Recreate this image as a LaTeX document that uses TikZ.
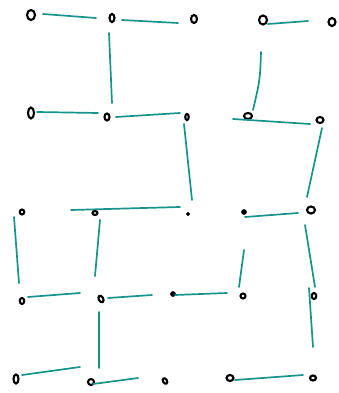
\documentclass[tikz,border=0pt]{standalone}
\usetikzlibrary{shapes.geometric}
\definecolor{edgeteal}{RGB}{22,148,138}
\tikzset{
  nd/.style={ellipse,draw=black,line width=2.1pt,inner sep=0pt,minimum width=#1},
  nd/.default=7pt,
  dotnd/.style={circle,fill=black,draw=black,line width=0.6pt,inner sep=0pt,minimum size=#1},
  dotnd/.default=3.5pt,
  edge/.style={draw=edgeteal,line width=1.7pt,line cap=round}
}
\begin{document}
\begin{tikzpicture}[x=1pt,y=-1pt]
\useasboundingbox (0,0) rectangle (339,393);
% row 1
\node[nd=8pt,minimum height=10pt] (A1) at (31,15) {};
\node[nd=5pt,minimum height=8pt] (A2) at (112,18) {};
\node[nd=6pt,minimum height=8pt] (A3) at (194,19) {};
\node[nd=8pt,minimum height=9pt] (A4) at (263,20) {};
\node[nd=7pt,minimum height=8pt] (A5) at (332,22) {};
% row 2
\node[nd=6pt,minimum height=11pt] (B1) at (31,113) {};
\node[nd=5pt,minimum height=7pt] (B2) at (107,117) {};
\node[nd=3.5pt,minimum height=6pt] (B3) at (187,117) {};
\node[nd=8pt,minimum height=6pt] (B4) at (248,116) {};
\node[nd=7pt,minimum height=6pt] (B5) at (320,120) {};
% row 3
\node[nd=4.5pt,minimum height=5pt] (C1) at (22,212) {};
\node[nd=5pt,minimum height=4pt] (C2) at (95,213) {};
\node[dotnd=3.5pt] (C3) at (188,214) {};
\node[dotnd=5pt] (C4) at (244,212) {};
\node[nd=8pt,minimum height=7pt] (C5) at (311,210) {};
% row 4
\node[nd=4.5pt,minimum height=6pt] (D1) at (22,301) {};
\node[nd=4.5pt,minimum height=7pt,rotate=30] (D2) at (101,299) {};
\node[dotnd=5pt] (D3) at (173,294) {};
\node[nd=5pt,minimum height=5pt] (D4) at (243,296) {};
\node[nd=4.5pt,minimum height=6pt] (D5) at (314,296) {};
% row 5
\node[nd=5pt,minimum height=9pt] (E1) at (16,379) {};
\node[nd=6pt,minimum height=6pt] (E2) at (91,382) {};
\node[nd=4pt,minimum height=6pt,rotate=30] (E3) at (165,381) {};
\node[nd=7pt,minimum height=6pt] (E4) at (230,378) {};
\node[nd=6pt,minimum height=5pt] (E5) at (313,378) {};
% connectors
\draw[edge] ([shift={(12,-1)}]A1.center) -- ([shift={(-16,0)}]A2.center);
\draw[edge] ([shift={(10,2)}]A2.center) -- ([shift={(-16,4)}]A3.center);
\draw[edge] ([shift={(-3,15)}]A2.center) -- ([shift={(5,-14)}]B2.center);
\draw[edge] ([shift={(5,4)}]A4.center) -- ([shift={(-24,-1)}]A5.center);
\draw[edge] ([shift={(-2,32)}]A4.center) .. controls ([shift={(-3,60)}]A4.center) .. ([shift={(5,-6)}]B4.center);
\draw[edge] ([shift={(6,-1)}]B1.center) -- ([shift={(-9,-4)}]B2.center);
\draw[edge] ([shift={(9,0)}]B2.center) -- ([shift={(-7,-4)}]B3.center);
\draw[edge] ([shift={(-15,3)}]B4.center) -- ([shift={(-10,4)}]B5.center);
\draw[edge] ([shift={(2,8)}]B5.center) -- ([shift={(-4,-13)}]C5.center);
\draw[edge] ([shift={(-3,7)}]B3.center) -- ([shift={(4,-14)}]C3.center);
\draw[edge] ([shift={(-24,-3)}]C2.center) -- ([shift={(-8,-7)}]C3.center);
\draw[edge] ([shift={(1,5)}]C4.center) -- ([shift={(-13,3)}]C5.center);
\draw[edge] ([shift={(-8,5)}]C1.center) -- ([shift={(-3,-18)}]D1.center);
\draw[edge] ([shift={(5,7)}]C2.center) -- ([shift={(-6,-23)}]D2.center);
\draw[edge] ([shift={(0,38)}]C4.center) -- ([shift={(-4,-9)}]D4.center);
\draw[edge] ([shift={(-6,15)}]C5.center) -- ([shift={(1,-9)}]D5.center);
\draw[edge] ([shift={(6,-4)}]D1.center) -- ([shift={(-21,-6)}]D2.center);
\draw[edge] ([shift={(7,-1)}]D2.center) -- ([shift={(-21,1)}]D3.center);
\draw[edge] ([shift={(2,1)}]D3.center) -- ([shift={(-16,-3)}]D4.center);
\draw[edge] ([shift={(-5,-8)}]D5.center) -- ([shift={(0,-31)}]E5.center);
\draw[edge] ([shift={(-2,13)}]D2.center) -- ([shift={(8,-14)}]E2.center);
\draw[edge] ([shift={(6,-4)}]E1.center) -- ([shift={(-11,-15)}]E2.center);
\draw[edge] ([shift={(2,2)}]E2.center) -- ([shift={(-27,-3)}]E3.center);
\draw[edge] ([shift={(5,2)}]E4.center) -- ([shift={(-10,-3)}]E5.center);
\end{tikzpicture}
\end{document}
